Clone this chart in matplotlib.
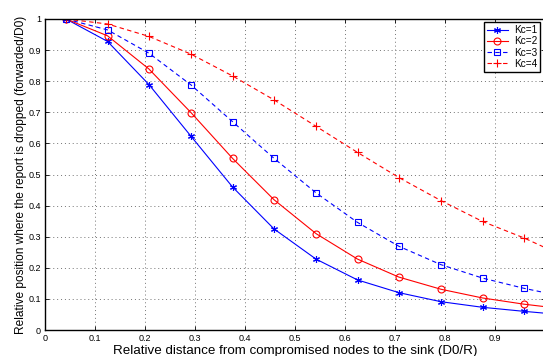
import matplotlib
matplotlib.use("Agg")
import matplotlib.pyplot as plt

plt.rcParams['font.family'] = ['Liberation Sans', 'DejaVu Sans']

# relative distance D0/R (last point lies past the right edge and is clipped)
dist = [0.042, 0.125, 0.208, 0.292, 0.375, 0.458, 0.542, 0.625, 0.708,
        0.792, 0.875, 0.958, 1.0]
kc1 = [1.0, 0.928, 0.789, 0.623, 0.460, 0.325, 0.228, 0.161, 0.120,
       0.091, 0.073, 0.060, 0.054]
kc2 = [1.0, 0.946, 0.839, 0.699, 0.552, 0.419, 0.310, 0.228, 0.170,
       0.131, 0.103, 0.083, 0.075]
kc3 = [1.0, 0.965, 0.890, 0.788, 0.670, 0.552, 0.441, 0.346, 0.269,
       0.210, 0.167, 0.134, 0.120]
kc4 = [1.0, 0.984, 0.944, 0.887, 0.817, 0.740, 0.655, 0.571, 0.490,
       0.416, 0.349, 0.296, 0.265]
labels = ["Kc=1", "Kc=2", "Kc=3", "Kc=4"]
xticks = [0, 0.1, 0.2, 0.3, 0.4, 0.5, 0.6, 0.7, 0.8, 0.9, 1]
yticks = [0, 0.1, 0.2, 0.3, 0.4, 0.5, 0.6, 0.7, 0.8, 0.9, 1]

fig = plt.figure(figsize=(5.43, 3.56), dpi=100)
ax = fig.add_axes([45 / 543, 26 / 356, 500 / 543, 311 / 356])

mk = slice(0, 12)
dash = (4, 3)
ax.plot(dist, kc1, color="#0000ff", lw=0.8, marker=(6, 2, 0), ms=5,
        mew=0.8, markevery=mk, label=labels[0])
ax.plot(dist, kc2, color="#ff0000", lw=0.8, marker="o", ms=5,
        mfc="none", mew=0.8, markevery=mk, label=labels[1])
ax.plot(dist, kc3, color="#0000ff", lw=0.8, ls=(0, dash), marker="s", ms=4,
        mfc="none", mew=0.8, markevery=mk, label=labels[2])
ax.plot(dist, kc4, color="#ff0000", lw=0.8, ls=(0, dash), marker="+", ms=6,
        mew=0.8, markevery=mk, label=labels[3])

ax.set_xlim(0, 1)
ax.set_ylim(0, 1)
ax.set_xticks(xticks)
ax.set_yticks(yticks)
# the "1" at the right end falls off the picture in the original
ax.set_xticklabels([str(t) for t in xticks[:-1]] + [""])
ax.set_yticklabels([str(t) for t in yticks])
ax.tick_params(direction="in", length=3, width=0.6, labelsize=6.5,
               top=True, right=True, pad=3)
ax.grid(True, ls=(0, (1, 3)), lw=0.7, color="0.45")
for s in ax.spines.values():
    s.set_linewidth(1.0)

ax.set_xlabel("Relative distance from compromised nodes to the sink (D0/R)",
              fontsize=9.6, labelpad=1)
ax.set_ylabel("Relative position where the report is dropped (forwarded/D0)",
              fontsize=8.6, labelpad=1)

leg = ax.legend(loc="upper right", bbox_to_anchor=(0.99, 0.99),
                borderaxespad=0, fontsize=7.2, handlelength=2.1,
                labelspacing=0.12, borderpad=0.3, handletextpad=0.6,
                fancybox=False, framealpha=1)
leg.get_frame().set_edgecolor("black")
leg.get_frame().set_linewidth(1.0)

fig.savefig("out.png", dpi=100)
